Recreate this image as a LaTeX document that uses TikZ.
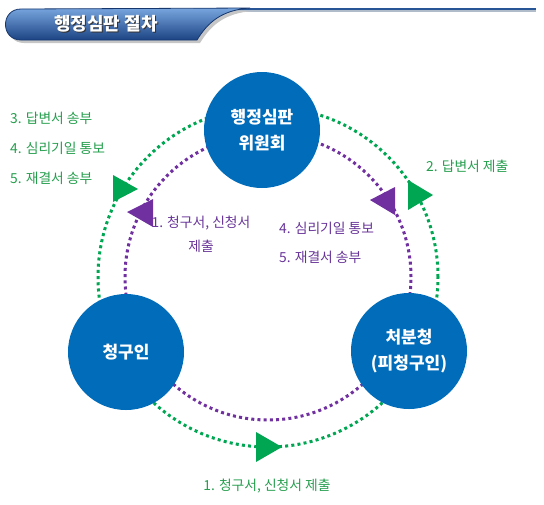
\documentclass[tikz,border=0pt]{standalone}
\usepackage{fontspec}
\setmainfont{Noto Sans CJK KR}
\definecolor{blueC}{RGB}{0,108,186}
\definecolor{greenC}{RGB}{0,166,81}
\definecolor{greenT}{RGB}{38,158,78}
\definecolor{purpleC}{RGB}{112,48,160}
\definecolor{purpleT}{RGB}{104,52,152}
\definecolor{bannerTop}{RGB}{120,165,222}
\definecolor{bannerBot}{RGB}{28,68,132}
\definecolor{bannerLine}{RGB}{22,55,110}
\tikzset{
  disk/.style={circle, fill=blueC, minimum size=116pt, inner sep=0pt, text=white,
    font=\bfseries\fontsize{17}{26}\selectfont, align=center},
  gdots/.style={draw=greenC, line width=3pt, dash pattern=on 3pt off 3.2pt},
  pdots/.style={draw=purpleC, line width=3pt, dash pattern=on 3pt off 3.2pt},
  glabel/.style={text=greenT, font=\fontsize{13.8}{16}\selectfont, inner sep=0pt},
  plabel/.style={text=purpleT, font=\fontsize{13.8}{24}\selectfont, inner sep=0pt, align=center},
}
\begin{document}
\begin{tikzpicture}[x=1pt,y=-1pt]
\useasboundingbox (0,0) rectangle (544,504);
% header
\draw[line width=2.5pt, draw={rgb,255:red,176;green,188;blue,202}] (235,11) -- (536,11);
\draw[line width=2pt, draw={rgb,255:red,40;green,85;blue,150}] (235,8.5) -- (536,8.5);
\fill[gray!45] (24,43) .. controls (3.3,43) and (3.3,12) .. (24,12) -- (253,11)
  .. controls (225,13) and (211,25) .. (200,43) -- cycle;
\shade[top color=bannerTop, bottom color=bannerBot, draw=bannerLine, line width=0.8pt]
  (21,40) .. controls (0.3,40) and (0.3,9) .. (21,9) -- (250,8)
  .. controls (222,10) and (208,22) .. (197,40) -- cycle;
\node[text=black!80, font=\bfseries\fontsize{18}{20}\selectfont] (titles) at (107,24.5) {행정심판 절차};
\node[text=white, font=\bfseries\fontsize{18}{20}\selectfont] (title) at (106,23.5) {행정심판 절차};
% dotted rings
\coordinate (ctr) at (268,277);
\draw[gdots] (ctr) circle[radius=170pt];
\draw[pdots] (ctr) circle[radius=143pt];
% disks
\node[disk] (top) at (262,130) {행정심판\\위원회};
\node[disk] (left) at (126,352) {청구인};
\node[disk] (right) at (409,351) {처분청\\(피청구인)};
% arrow triangles
\fill[greenC] (113,175) -- (113,202) -- (138,189) -- cycle;
\fill[greenC] (408,180) -- (408,210) -- (433,195) -- cycle;
\fill[greenC] (256,432) -- (256,462) -- (282,447) -- cycle;
\fill[purpleC] (127,212) -- (153,199) -- (153,227) -- cycle;
\fill[purpleC] (370,200) -- (395,187) -- (395,215) -- cycle;
% labels
\node[glabel, anchor=west] (g3) at (10,118) {3. 답변서 송부};
\node[glabel, anchor=west] (g4) at (10,148) {4. 심리기일 통보};
\node[glabel, anchor=west] (g5) at (10,178) {5. 재결서 송부};
\node[glabel, anchor=west] (g2) at (426,166) {2. 답변서 제출};
\node[glabel] (g1) at (267,486) {1. 청구서, 신청서 제출};
\node[plabel] (p1) at (201,234) {1. 청구서, 신청서\\제출};
\node[plabel, anchor=west] (p4) at (279,228) {4. 심리기일 통보};
\node[plabel, anchor=west] (p5) at (279,257) {5. 재결서 송부};
\end{tikzpicture}
\end{document}
